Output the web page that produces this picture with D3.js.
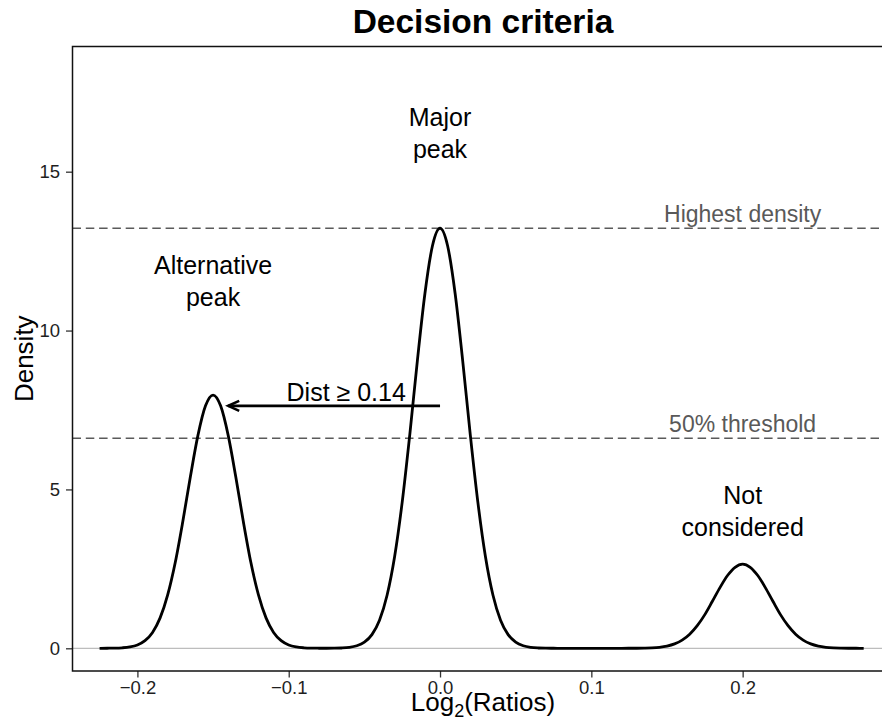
<!DOCTYPE html>
<head>
  <meta charset="utf-8">
  <script src="https://d3js.org/d3.v7.min.js"></script>
  <style>
    body { margin: 0; background: #fff; }
    svg { width: 882px; height: 722px; display: block; }
    text { font-family: "Liberation Sans", Arial, Helvetica, sans-serif; }
  </style>
</head>

<body>
  <svg></svg>

  <script>
    // log2 ratio grid of the density curve
    const ratios = [
      -0.225, -0.22, -0.215, -0.21, -0.205, -0.2, -0.195, -0.19, -0.185, -0.18,
      -0.175, -0.17, -0.165, -0.16, -0.155, -0.15, -0.145, -0.14, -0.135, -0.13,
      -0.125, -0.12, -0.115, -0.11, -0.105, -0.1, -0.095, -0.09, -0.085, -0.08,
      -0.075, -0.07, -0.065, -0.06, -0.055, -0.05, -0.045, -0.04, -0.035, -0.03,
      -0.025, -0.02, -0.015, -0.01, -0.005, 0, 0.005, 0.01, 0.015, 0.02,
      0.025, 0.03, 0.035, 0.04, 0.045, 0.05, 0.055, 0.06, 0.065, 0.07,
      0.075, 0.08, 0.085, 0.09, 0.095, 0.1, 0.105, 0.11, 0.115, 0.12,
      0.125, 0.13, 0.135, 0.14, 0.145, 0.15, 0.155, 0.16, 0.165, 0.17,
      0.175, 0.18, 0.185, 0.19, 0.195, 0.2, 0.205, 0.21, 0.215, 0.22,
      0.225, 0.23, 0.235, 0.24, 0.245, 0.25, 0.255, 0.26, 0.265, 0.27,
      0.275, 0.28
    ];
    // density at each ratio
    const density = [
      0.000, 0.002, 0.005, 0.016, 0.043, 0.105, 0.240, 0.500, 0.957, 1.68,
      2.70, 3.99, 5.40, 6.70, 7.63, 7.97, 7.63, 6.70, 5.40, 3.99,
      2.70, 1.68, 0.957, 0.500, 0.240, 0.105, 0.043, 0.016, 0.005, 0.002,
      0.001, 0.003, 0.010, 0.030, 0.080, 0.193, 0.431, 0.885, 1.67, 2.89,
      4.60, 6.72, 9.04, 11.16, 12.67, 13.22, 12.67, 11.16, 9.04, 6.72,
      4.60, 2.89, 1.67, 0.885, 0.431, 0.193, 0.080, 0.030, 0.010, 0.003,
      0.001, 0, 0, 0, 0, 0, 0, 0, 0, 0,
      0.001, 0.002, 0.006, 0.014, 0.032, 0.069, 0.138, 0.256, 0.443, 0.712,
      1.06, 1.48, 1.91, 2.29, 2.55, 2.65, 2.55, 2.29, 1.91, 1.48,
      1.06, 0.712, 0.443, 0.256, 0.138, 0.069, 0.032, 0.014, 0.006, 0.002,
      0.001, 0
    ];

    const xTicks = [-0.2, -0.1, 0.0, 0.1, 0.2];
    const yTicks = [0, 5, 10, 15];

    // reference lines
    const highestDensity = 13.22;
    const threshold = 6.61;
    const refLabels = ['Highest density', '50% threshold'];
    const refLabelX = 0.2;

    // distance arrow (from major peak towards the alternative one)
    const arrowFrom = 0;
    const arrowTo = -0.14;
    const arrowAt = 7.63;
    const arrowLabel = 'Dist \u2265 0.14';
    const arrowLabelX = -0.062;

    // peak labels
    const peakLabels = [
      {lines: ['Major', 'peak'], x: 0, y: 16.44},
      {lines: ['Alternative', 'peak'], x: -0.15, y: 11.77},
      {lines: ['Not', 'considered'], x: 0.2, y: 4.54}
    ];

    const width = 882;
    const height = 722;
    const panel = {left: 72.5, right: 893.5, top: 46.5, bottom: 671};

    const svg = d3.select('svg')
      .attr('viewBox', `0 0 ${width} ${height}`);

    const x = d3.scaleLinear()
      .domain([-0.2429, 0.2997])
      .range([panel.left, panel.right]);
    const y = d3.scaleLinear()
      .domain([-0.7145, 18.94])
      .range([panel.bottom, panel.top]);

    // zero line
    svg.append('line')
      .attr('x1', panel.left).attr('x2', panel.right)
      .attr('y1', y(0)).attr('y2', y(0))
      .attr('stroke', '#bdbdbd')
      .attr('stroke-width', 1.3);

    // dashed reference lines + their labels
    [highestDensity, threshold].forEach((v, i) => {
      svg.append('line')
        .attr('x1', panel.left).attr('x2', panel.right)
        .attr('y1', y(v)).attr('y2', y(v))
        .attr('stroke', '#5a5a5a')
        .attr('stroke-width', 1.5)
        .attr('stroke-dasharray', '8.5,4.8');
      svg.append('text')
        .attr('x', x(refLabelX))
        .attr('y', y(v) - 6)
        .attr('text-anchor', 'middle')
        .attr('font-size', 23)
        .attr('fill', '#595959')
        .text(refLabels[i]);
    });

    // density curve
    const line = d3.line()
      .x(d => x(d[0]))
      .y(d => y(d[1]))
      .curve(d3.curveMonotoneX);
    svg.append('path')
      .datum(d3.zip(ratios, density))
      .attr('fill', 'none')
      .attr('stroke', '#000')
      .attr('stroke-width', 2.8)
      .attr('stroke-linejoin', 'round')
      .attr('d', line);

    // arrow
    const tipX = x(arrowTo), ay = y(arrowAt);
    svg.append('line')
      .attr('x1', x(arrowFrom)).attr('x2', tipX)
      .attr('y1', ay).attr('y2', ay)
      .attr('stroke', '#000')
      .attr('stroke-width', 2.6);
    svg.append('path')
      .attr('d', `M${tipX + 11},${ay - 5}L${tipX},${ay}L${tipX + 11},${ay + 5}`)
      .attr('fill', 'none')
      .attr('stroke', '#000')
      .attr('stroke-width', 2.6)
      .attr('stroke-linejoin', 'miter');
    svg.append('text')
      .attr('x', x(arrowLabelX))
      .attr('y', ay - 5)
      .attr('text-anchor', 'middle')
      .attr('font-size', 25)
      .attr('fill', '#000')
      .text(arrowLabel);

    // peak annotations
    peakLabels.forEach(p => {
      const t = svg.append('text')
        .attr('x', x(p.x))
        .attr('y', y(p.y))
        .attr('text-anchor', 'middle')
        .attr('font-size', 25)
        .attr('fill', '#000');
      p.lines.forEach((s, i) => {
        t.append('tspan')
          .attr('x', x(p.x))
          .attr('dy', i === 0 ? 0 : 32)
          .text(s);
      });
    });

    // axes
    const fmtX = d3.format('.1f');
    const xAxis = svg.append('g')
      .attr('transform', `translate(0,${panel.bottom})`)
      .call(d3.axisBottom(x).tickValues(xTicks).tickFormat(fmtX).tickSize(6.5).tickPadding(3));
    const yAxis = svg.append('g')
      .attr('transform', `translate(${panel.left},0)`)
      .call(d3.axisLeft(y).tickValues(yTicks).tickFormat(d3.format('d')).tickSize(6.5).tickPadding(6));
    [xAxis, yAxis].forEach(g => {
      g.select('.domain').remove();
      g.selectAll('.tick line').attr('stroke', '#333').attr('stroke-width', 1.3);
      g.selectAll('.tick text')
        .attr('font-size', 18.5)
        .attr('font-family', '"Liberation Sans", Arial, Helvetica, sans-serif')
        .attr('fill', '#1e1e1e');
    });

    // panel border
    svg.append('rect')
      .attr('x', panel.left).attr('y', panel.top)
      .attr('width', panel.right - panel.left)
      .attr('height', panel.bottom - panel.top)
      .attr('fill', 'none')
      .attr('stroke', '#111')
      .attr('stroke-width', 1.5);

    // titles
    svg.append('text')
      .attr('x', (panel.left + panel.right) / 2)
      .attr('y', 33)
      .attr('text-anchor', 'middle')
      .attr('font-size', 33.5)
      .attr('font-weight', 'bold')
      .text('Decision criteria');

    const xl = svg.append('text')
      .attr('x', (panel.left + panel.right) / 2)
      .attr('y', 711)
      .attr('text-anchor', 'middle')
      .attr('font-size', 26);
    xl.append('tspan').text('Log');
    xl.append('tspan').attr('font-size', 18).attr('dy', 6).text('2');
    xl.append('tspan').attr('dy', -6).text('(Ratios)');

    svg.append('text')
      .attr('transform', `translate(33,${(panel.top + panel.bottom) / 2})rotate(-90)`)
      .attr('text-anchor', 'middle')
      .attr('font-size', 26)
      .text('Density');
  </script>
</body>
